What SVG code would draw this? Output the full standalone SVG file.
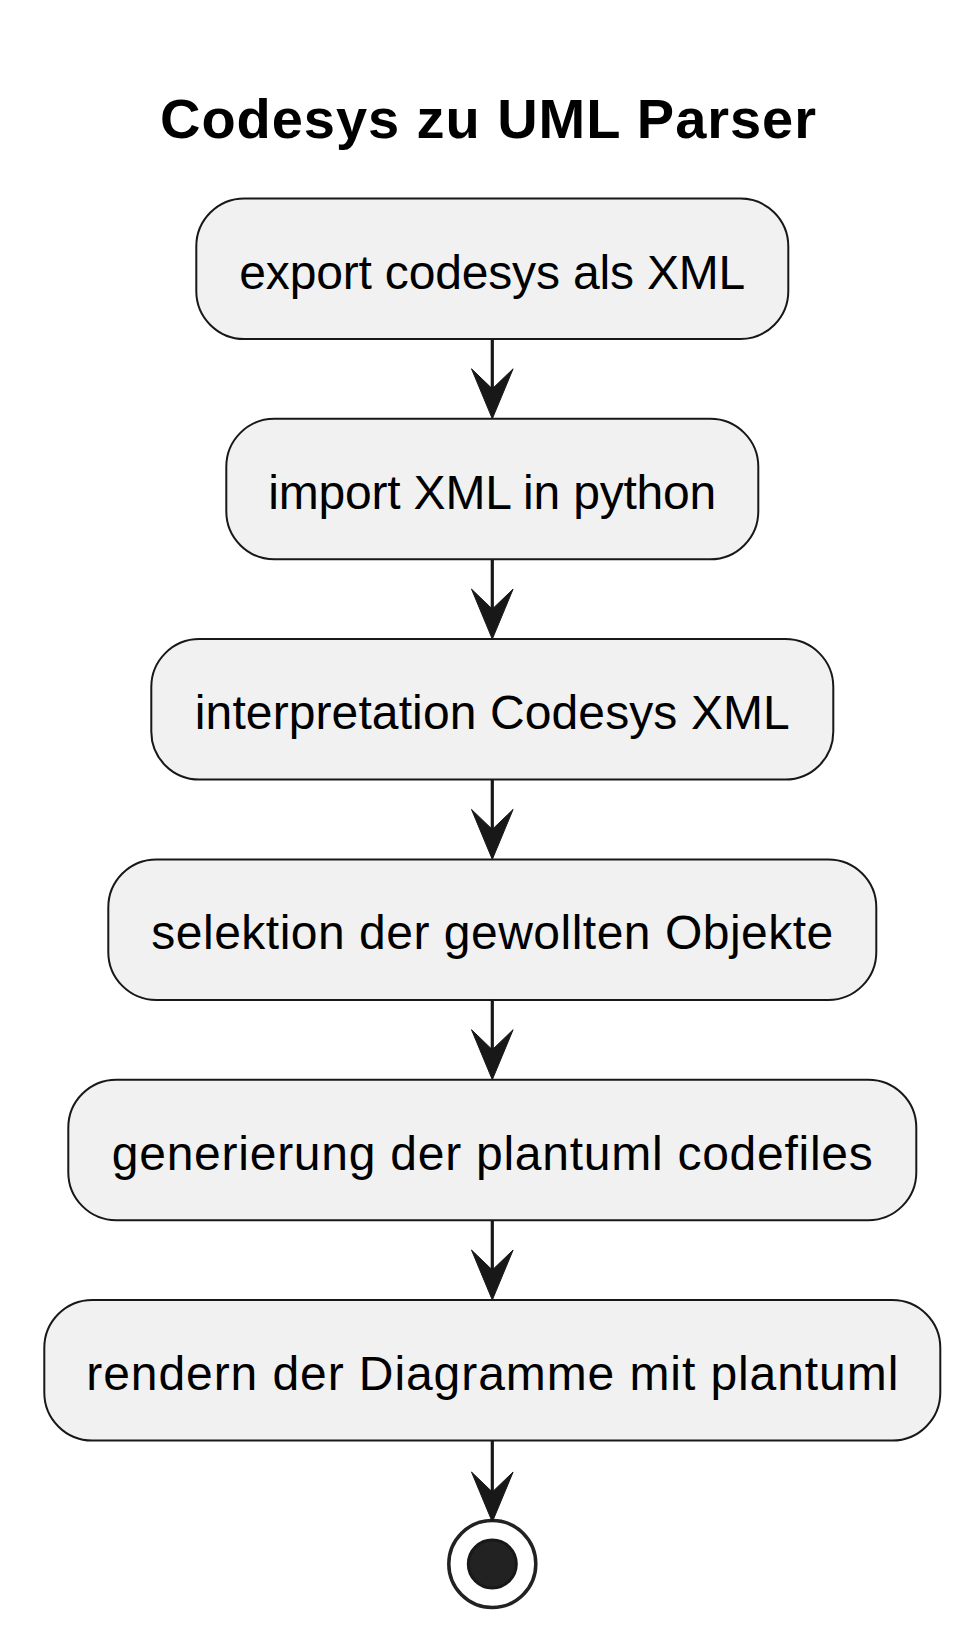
<svg xmlns="http://www.w3.org/2000/svg" width="980" height="1648" viewBox="0 0 980 1648">
<style>
.box{fill:#F1F1F1;stroke:#181818;stroke-width:2}
.lbl{font-family:"Liberation Sans",Arial,sans-serif;font-size:48px;fill:#000000;text-anchor:middle}
.title{font-family:"Liberation Sans",Arial,sans-serif;font-size:56px;font-weight:bold;fill:#000000;text-anchor:middle}
.edge{stroke:#181818;stroke-width:3.2;fill:none}
.head{fill:#181818;stroke:#181818;stroke-width:1}
</style>
<rect x="0" y="0" width="980" height="1648" fill="#FFFFFF"/>
<g id="title">
<text class="title" x="488" y="138" textLength="656" lengthAdjust="spacing">Codesys zu UML Parser</text>
</g>
<g id="n1">
<rect class="box" x="196.3" y="198.5" width="592" height="140.5" rx="48" ry="48"/>
<text class="lbl" x="492.3" y="288.5" textLength="506" lengthAdjust="spacing">export codesys als XML</text>
</g>
<g id="n2">
<rect class="box" x="226.3" y="418.8" width="532" height="140.5" rx="48" ry="48"/>
<text class="lbl" x="492.3" y="508.8" textLength="448" lengthAdjust="spacing">import XML in python</text>
</g>
<g id="n3">
<rect class="box" x="151.3" y="639.1" width="682" height="140.5" rx="48" ry="48"/>
<text class="lbl" x="492.3" y="729.1" textLength="595" lengthAdjust="spacing">interpretation Codesys XML</text>
</g>
<g id="n4">
<rect class="box" x="108.3" y="859.4" width="768" height="140.5" rx="48" ry="48"/>
<text class="lbl" x="492.3" y="949.4" textLength="682" lengthAdjust="spacing">selektion der gewollten Objekte</text>
</g>
<g id="n5">
<rect class="box" x="68.3" y="1079.7" width="848" height="140.5" rx="48" ry="48"/>
<text class="lbl" x="492.3" y="1169.7" textLength="761" lengthAdjust="spacing">generierung der plantuml codefiles</text>
</g>
<g id="n6">
<rect class="box" x="44.3" y="1300" width="896" height="140.5" rx="48" ry="48"/>
<text class="lbl" x="492.3" y="1390" textLength="812" lengthAdjust="spacing">rendern der Diagramme mit plantuml</text>
</g>
<g id="stop">
<circle cx="492.3" cy="1564" r="43.5" fill="#FFFFFF" stroke="#222222" stroke-width="3.5"/>
<circle cx="492.3" cy="1564" r="24" fill="#222222" stroke="#181818" stroke-width="3"/>
</g>
<g id="connectors">
<line class="edge" x1="492.3" y1="339" x2="492.3" y2="400"/>
<polygon class="head" points="492.3,418.8 471.5,368.8 492.3,388.8 513.1,368.8"/>
<line class="edge" x1="492.3" y1="559.3" x2="492.3" y2="620"/>
<polygon class="head" points="492.3,639.1 471.5,589.1 492.3,609.1 513.1,589.1"/>
<line class="edge" x1="492.3" y1="779.6" x2="492.3" y2="840"/>
<polygon class="head" points="492.3,859.4 471.5,809.4 492.3,829.4 513.1,809.4"/>
<line class="edge" x1="492.3" y1="999.9" x2="492.3" y2="1060"/>
<polygon class="head" points="492.3,1079.7 471.5,1029.7 492.3,1049.7 513.1,1029.7"/>
<line class="edge" x1="492.3" y1="1220.2" x2="492.3" y2="1280"/>
<polygon class="head" points="492.3,1300 471.5,1250 492.3,1270 513.1,1250"/>
<line class="edge" x1="492.3" y1="1440.5" x2="492.3" y2="1502"/>
<polygon class="head" points="492.3,1522 471.5,1472 492.3,1492 513.1,1472"/>
</g>
</svg>
